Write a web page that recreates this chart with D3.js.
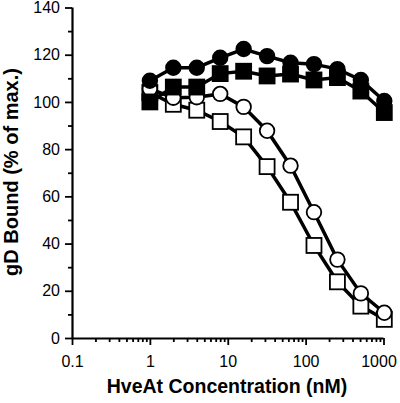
<!DOCTYPE html>
<html><head><meta charset="utf-8">
<script src="https://cdn.jsdelivr.net/npm/d3@7"></script>
<style>body{margin:0;background:#fff}svg{display:block}</style>
</head><body>
<svg id="c" width="400" height="403"></svg>
<script>
const conc = [1, 2, 4, 8, 16, 32, 64, 128, 256, 512, 1024];
const filledCircles = [109, 114.5, 114.5, 118.7, 122.4, 119.4, 116.6, 116, 113.9, 109.3, 100.4];
const filledSquares = [100, 106.3, 106.3, 112, 113, 111, 111.8, 109.3, 110.3, 104.6, 95.5];
const openCircles = [105.5, 101.8, 102, 103.4, 97.9, 87.8, 73, 53.3, 33.2, 18.9, 10.7];
const openSquares = [104, 99, 96.5, 91.7, 85.2, 72.6, 57.5, 39.2, 23.8, 13.5, 7.9];
const xTicks = [0.1, 1, 10, 100, 1000];
const xTickLabels = ["0.1", "1", "10", "100", "1000"];
const yTicks = [0, 20, 40, 60, 80, 100, 120, 140];
const yMinor = [10, 30, 50, 70, 90, 110, 130];

const svg = d3.select("#c");
const x = d3.scaleLog().domain([0.1, 1000]).range([72, 383.5]);
const y = d3.scaleLinear().domain([0, 140]).range([338, 7.5]);
const font = "Arial, 'Liberation Sans', Helvetica, sans-serif";

// minor x ticks
const xMinor = [];
for (let d = 0.1; d < 1000; d *= 10) for (let k = 2; k <= 9; k++) xMinor.push(d * k);

const xAxis = svg.append("g").attr("transform", "translate(0,338)")
  .call(d3.axisBottom(x).tickValues(xTicks).tickFormat((d, i) => xTickLabels[i]).tickSize(7).tickPadding(11));
svg.append("g").attr("transform", "translate(0,338)")
  .call(d3.axisBottom(x).tickValues(xMinor).tickFormat("").tickSize(4))
  .call(g => g.select(".domain").remove());
const yAxis = svg.append("g").attr("transform", "translate(72,0)")
  .call(d3.axisLeft(y).tickValues(yTicks).tickSize(7).tickPadding(5));
svg.append("g").attr("transform", "translate(72,0)")
  .call(d3.axisLeft(y).tickValues(yMinor).tickFormat("").tickSize(4))
  .call(g => g.select(".domain").remove());

svg.selectAll(".domain").attr("stroke", "#000").attr("stroke-width", 2.2);
svg.selectAll(".tick line").attr("stroke", "#000").attr("stroke-width", 1.8);
xAxis.select(".domain").attr("d", `M72,0.5H383.5`);
yAxis.select(".domain").attr("d", `M0.5,7.5V338`);
svg.selectAll(".tick text").attr("font-family", font).attr("font-size", 16).attr("fill", "#000");
// last x label sits slightly left so it fits inside the frame
xAxis.selectAll(".tick text").filter(d => d === 1000).attr("dx", -5);

// axis titles
svg.append("text").attr("x", 227).attr("y", 393).attr("text-anchor", "middle")
  .attr("font-family", font).attr("font-weight", "bold").attr("font-size", 19.5)
  .text("HveAt Concentration (nM)");
svg.append("text").attr("transform", "translate(18,172) rotate(-90)").attr("text-anchor", "middle")
  .attr("font-family", font).attr("font-weight", "bold").attr("font-size", 20)
  .text("gD Bound (% of max.)");

const line = d3.line().x(d => x(d[0])).y(d => y(d[1]));
const series = [
  {vals: openSquares, shape: "square", fill: "#fff"},
  {vals: openCircles, shape: "circle", fill: "#fff"},
  {vals: filledSquares, shape: "square", fill: "#000"},
  {vals: filledCircles, shape: "circle", fill: "#000"}
];
series.forEach(s => {
  const pts = conc.map((c, i) => [c, s.vals[i]]);
  const g = svg.append("g");
  g.append("path").attr("d", line(pts)).attr("fill", "none").attr("stroke", "#000").attr("stroke-width", 3.5);
  if (s.shape === "circle") {
    g.selectAll("circle").data(pts).join("circle")
      .attr("cx", d => x(d[0])).attr("cy", d => y(d[1])).attr("r", 7.3)
      .attr("fill", s.fill).attr("stroke", "#000").attr("stroke-width", 1.8);
  } else {
    g.selectAll("rect").data(pts).join("rect")
      .attr("x", d => x(d[0]) - 7.5).attr("y", d => y(d[1]) - 7.5).attr("width", 15).attr("height", 15)
      .attr("fill", s.fill).attr("stroke", "#000").attr("stroke-width", 1.8);
  }
});
</script>
</body></html>
